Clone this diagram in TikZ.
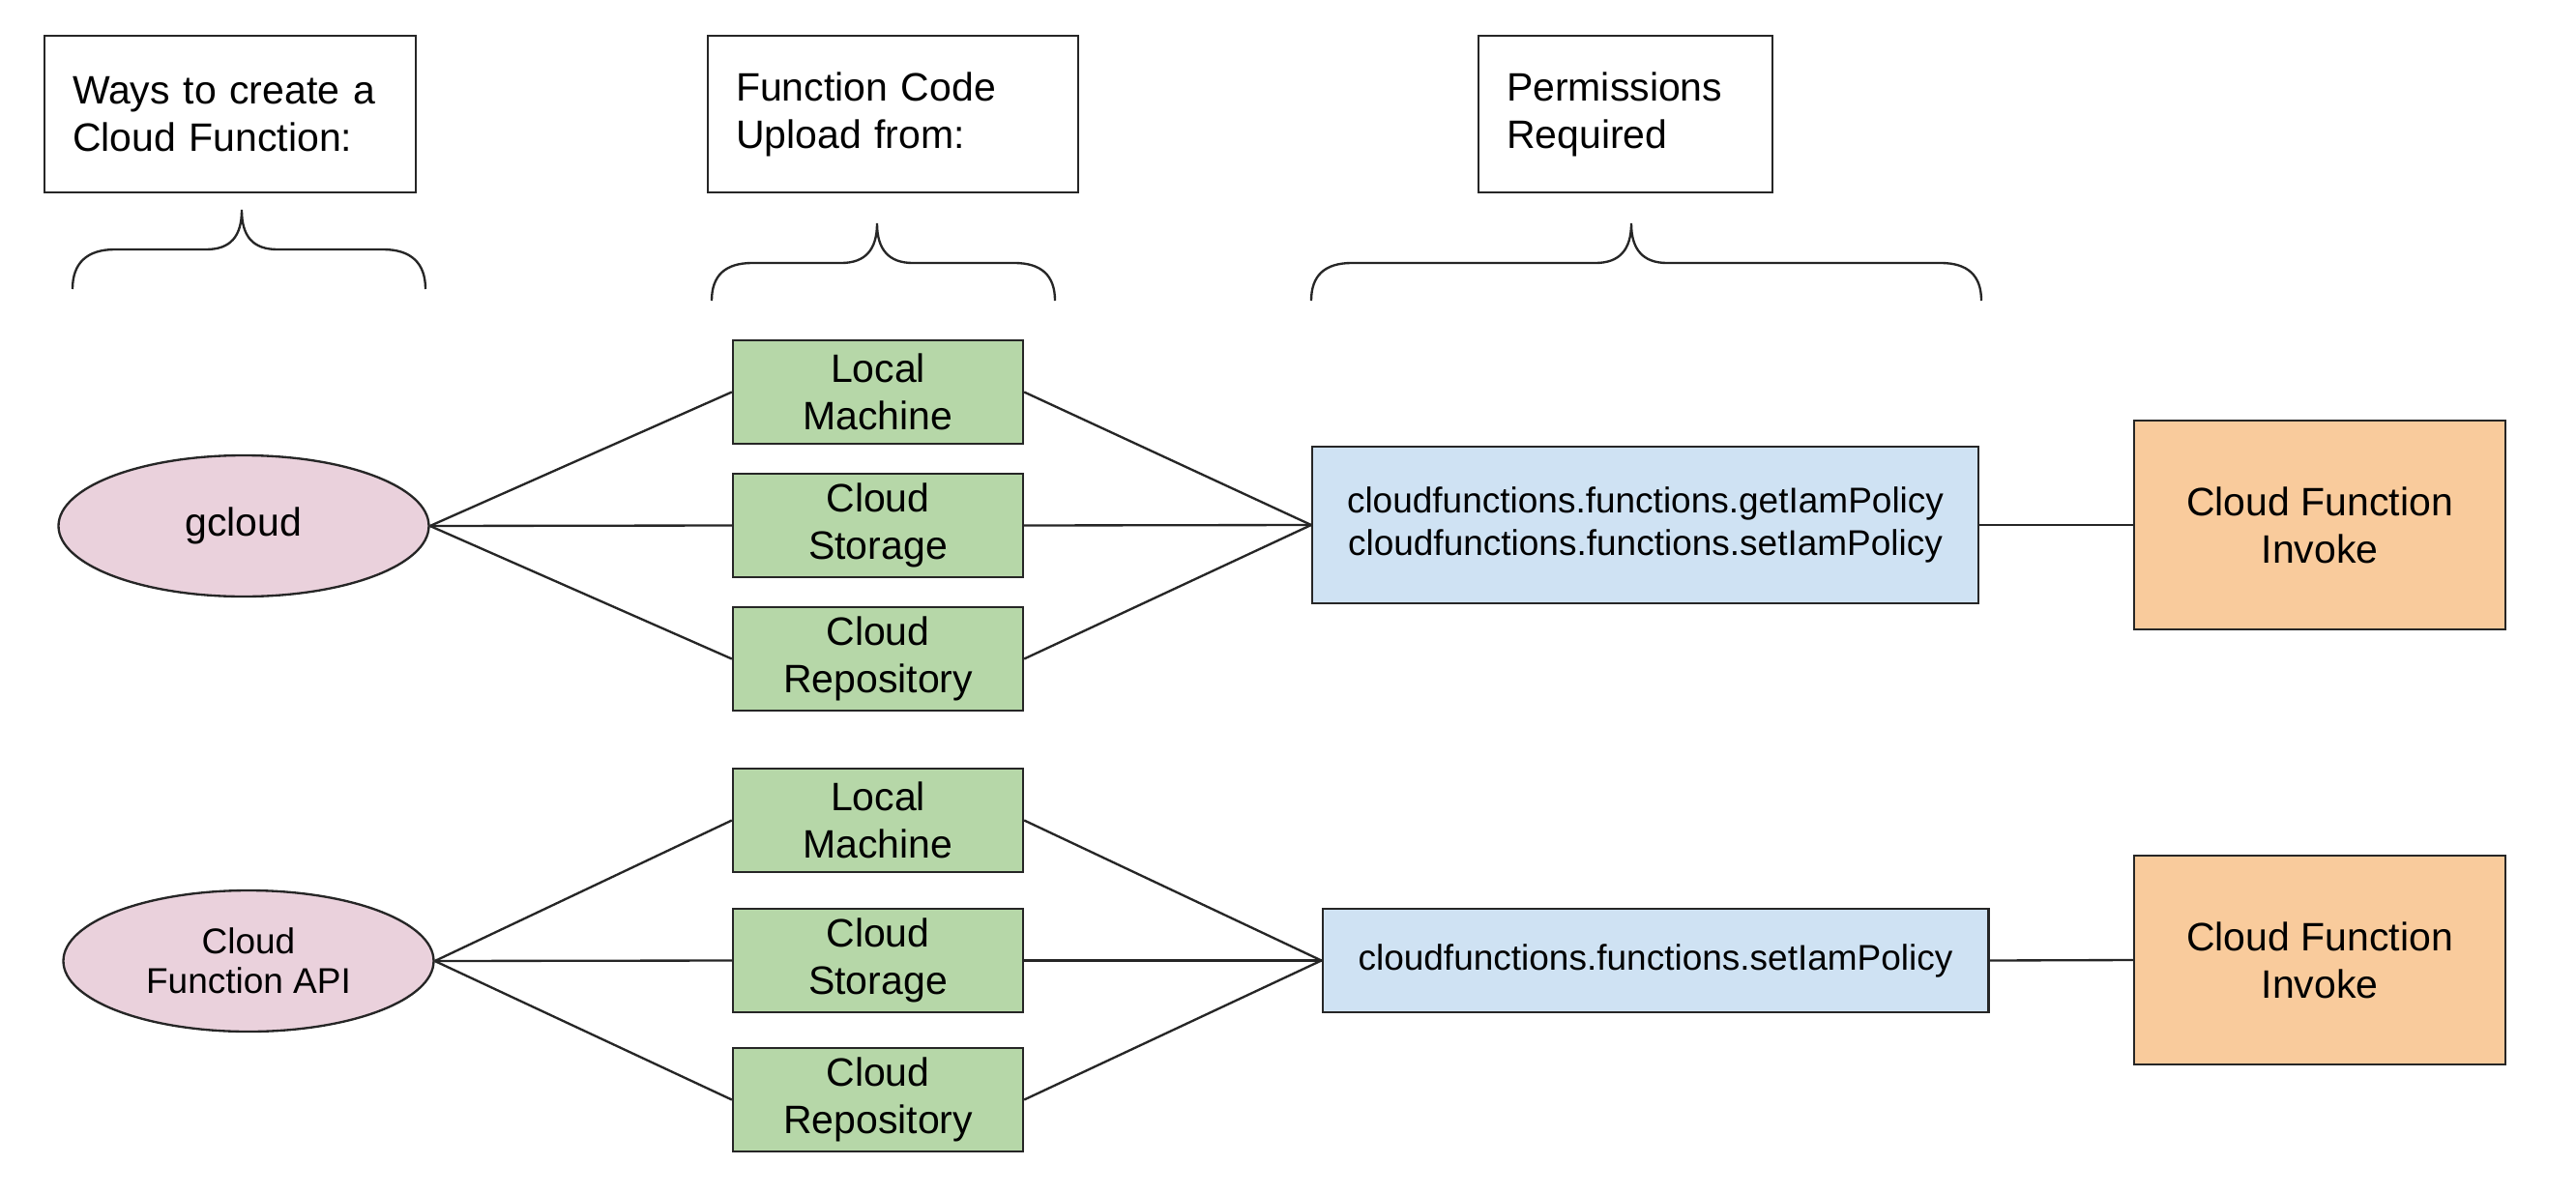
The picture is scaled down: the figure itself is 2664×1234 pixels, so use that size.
\documentclass[tikz,border=0pt]{standalone}
\usepackage{fontspec}
\setmainfont{Liberation Sans}
\usetikzlibrary{shapes.geometric}
\definecolor{pinkfill}{HTML}{EAD1DC}
\definecolor{greenfill}{HTML}{B6D7A8}
\definecolor{bluefill}{HTML}{CFE2F3}
\definecolor{orangefill}{HTML}{F9CB9C}
\definecolor{linec}{HTML}{262626}
\tikzset{
  base/.style={draw=linec, line width=0.7pt, inner sep=0pt, align=center, text=black},
  bigtxt/.style={font=\fontsize{12.3pt}{14.7pt}\selectfont},
  smalltxt/.style={font=\fontsize{11.1pt}{13.2pt}\selectfont},
  header/.style={base, bigtxt, align=left, inner xsep=8.7pt, minimum height=48.6pt},
  srcellipse/.style={base, ellipse, fill=pinkfill, minimum width=114.9pt, minimum height=43.8pt},
  srcbox/.style={base, bigtxt, rectangle, fill=greenfill, minimum width=90pt, minimum height=32.1pt},
  permbox/.style={base, smalltxt, rectangle, fill=bluefill, minimum width=206.6pt},
  invokebox/.style={base, bigtxt, rectangle, fill=orangefill, minimum width=115.2pt, minimum height=64.8pt},
  conn/.style={draw=linec, line width=0.7pt},
  bracestyle/.style={draw=linec, line width=0.7pt}
}
\begin{document}
\begin{tikzpicture}[x=0.3pt, y=-0.3pt]
\useasboundingbox (0,0) rectangle (2664,1234);

% headers
\node[header, text width=97.8pt] (h1) at (238,118) {Ways to create a\\Cloud Function:};
\node[header, text width=97.5pt] (h2) at (923.5,118) {Function Code\\Upload from:};
\node[header, text width=73.8pt] (h3) at (1681,118) {Permissions\\Required};

% braces
\draw[bracestyle] (75,299) .. controls (75,272) and (90,258) .. (119,258) -- (213,258)
  .. controls (238,258) and (250,245) .. (250,217)
  .. controls (250,245) and (262,258) .. (287,258) -- (396,258)
  .. controls (425,258) and (440,272) .. (440,299);
\draw[bracestyle] (736,311) .. controls (736,285) and (750,272) .. (778,272) -- (870,272)
  .. controls (895,272) and (907,258) .. (907,231)
  .. controls (907,258) and (919,272) .. (944,272) -- (1049,272)
  .. controls (1077,272) and (1091,285) .. (1091,311);
\draw[bracestyle] (1356,311) .. controls (1356,285) and (1370,272) .. (1398,272) -- (1650,272)
  .. controls (1675,272) and (1687,258) .. (1687,231)
  .. controls (1687,258) and (1699,272) .. (1724,272) -- (2007,272)
  .. controls (2035,272) and (2049,285) .. (2049,311);

% top row
\node[srcellipse, bigtxt] (g) at (252,544) {gcloud};
\node[srcbox] (lm1) at (908,405.5) {Local\\Machine};
\node[srcbox] (cs1) at (908,543.5) {Cloud\\Storage};
\node[srcbox] (cr1) at (908,681.5) {Cloud\\Repository};
\node[permbox, minimum height=48.6pt] (p1) at (1701.5,543) {cloudfunctions.functions.getIamPolicy\\cloudfunctions.functions.setIamPolicy};
\node[invokebox] (i1) at (2399,543) {Cloud Function\\Invoke};

% bottom row
\node[srcellipse, smalltxt, font=\fontsize{11.1pt}{12.3pt}\selectfont] (api) at (257,994) {Cloud\\Function API};
\node[srcbox] (lm2) at (908,848.5) {Local\\Machine};
\node[srcbox] (cs2) at (908,993.5) {Cloud\\Storage};
\node[srcbox] (cr2) at (908,1137.5) {Cloud\\Repository};
\node[permbox, minimum height=32.1pt] (p2) at (1712,993.5) {cloudfunctions.functions.setIamPolicy};
\node[invokebox] (i2) at (2399,993) {Cloud Function\\Invoke};

% connectors top
\foreach \s in {lm1,cs1,cr1} {
  \draw[conn] (g.east) -- (\s.west);
  \draw[conn] (\s.east) -- (p1.west);
}
\draw[conn] (p1.east) -- (i1.west);

% connectors bottom
\foreach \s in {lm2,cs2,cr2} {
  \draw[conn] (api.east) -- (\s.west);
  \draw[conn] (\s.east) -- (p2.west);
}
\draw[conn] (p2.east) -- (i2.west);
\end{tikzpicture}
\end{document}
